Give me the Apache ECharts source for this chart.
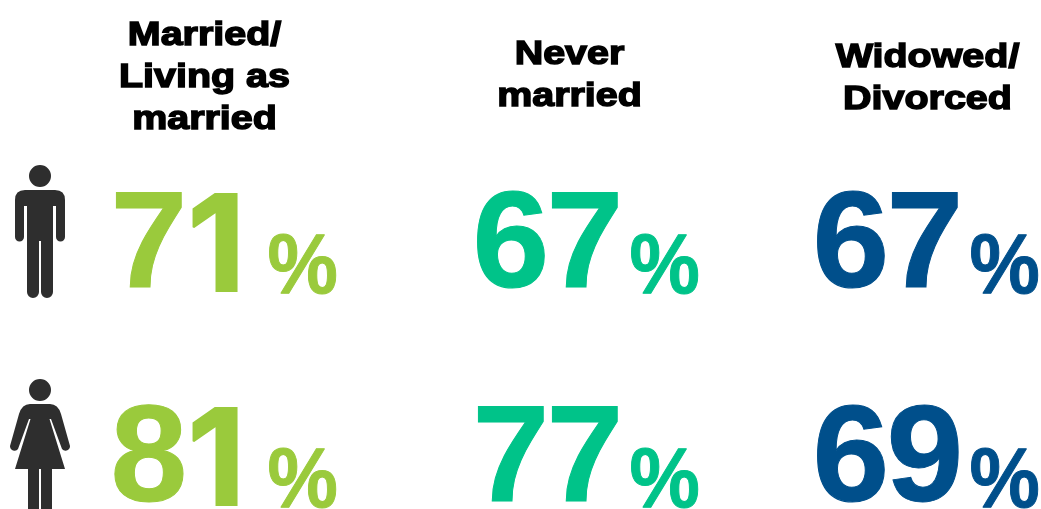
<!DOCTYPE html>
<html>
<head>
<meta charset="utf-8">
<style>html,body{margin:0;padding:0;background:#fff}#main{width:1041px;height:509px}</style>
<script src="https://cdn.jsdelivr.net/npm/echarts@6/dist/echarts.min.js"></script>
</head>
<body>
<div id="main"></div>
<script>
// Share of respondents, by marital status and sex
const statuses = ['Married/\nLiving as\nmarried', 'Never\nmarried', 'Widowed/\nDivorced'];
const sexes = ['Men', 'Women'];
const menValues = [71, 67, 67];
const womenValues = [81, 77, 69];
const statusColors = ['#9aca3c', '#00c389', '#004f8b'];

// Layout tweaks around each category band centre
const valueNudgeX = [0, 11, 0];
const headerNudgeX = [-20, -6, 1];
const headerNudgeY = [52, 50, 53];
const valueLeftFromCentre = -114;
const valueMiddleFromCentre = 9;
const digitAdvance = 74;
const percentMiddleOffset = 20;
const percentGap = 157;
const iconCentreFromBand = -184.5;

const HEAD = 'M-11 -64a11 11 0 1 0 22 0a11 11 0 1 0 -22 0Z';
const iconPaths = {
  Men: HEAD + 'M-15 -50L15 -50Q25 -50 25 -40L25 -3A4.5 4.5 0 0 1 16 -3L16 -34L13 -34L13 52A6 6 0 0 1 1 52L1 1L-1 1L-1 52A6 6 0 0 1 -13 52L-13 -34L-16 -34L-16 -3A4.5 4.5 0 0 1 -25 -3L-25 -40Q-25 -50 -15 -50Z',
  Women: HEAD + 'M-10 -50L10 -50Q18 -50 21 -40L30 -8A4.5 4.5 0 0 1 22 -5L11 -35L9.5 -35L25 15L12 15L12 60L1 60L1 15L-1 15L-1 60L-12 60L-12 15L-25 15L-9.5 -35L-11 -35L-22 -5A4.5 4.5 0 0 1 -30 -8L-21 -40Q-18 -50 -10 -50Z'
};

const rows = ['Header'].concat(sexes);
const valueData = [];
menValues.forEach((v, i) => valueData.push([i, 'Men', v]));
womenValues.forEach((v, i) => valueData.push([i, 'Women', v]));

// One text element per digit, so the flagged "1" can come from a face without a foot serif
function digitElement(ch, x, y, color) {
  const isOne = ch === '1';
  return {
    type: 'text',
    style: {
      text: ch,
      x: isOne ? x + 3 : x,
      y: isOne ? y + 2 : y,
      align: 'left',
      verticalAlign: 'middle',
      font: isOne ? 'bold 134px Inter' : 'bold 138px "Liberation Sans"',
      fill: color,
      stroke: color,
      lineWidth: isOne ? 2 : 1
    }
  };
}

const chart = echarts.init(document.getElementById('main'), null, { renderer: 'canvas' });
chart.setOption({
  animation: false,
  backgroundColor: '#fff',
  grid: { outerBoundsMode: 'none', left: 49, top: -81, width: 1053, height: 642 },
  xAxis: { type: 'category', show: false, data: statuses },
  yAxis: { type: 'category', show: false, inverse: true, data: rows },
  series: [
    {
      name: 'Headers',
      type: 'custom',
      clip: false,
      data: statuses.map((s, i) => [i, 'Header']),
      renderItem(params, api) {
        const i = api.value(0);
        const p = api.coord([i, 'Header']);
        return {
          type: 'group',
          x: p[0] + headerNudgeX[i],
          y: p[1] + headerNudgeY[i],
          scaleX: 1.16,
          children: [{
            type: 'text',
            style: {
              text: statuses[i],
              x: 0, y: 0,
              align: 'center',
              verticalAlign: 'middle',
              font: 'bold 34px "Liberation Sans"',
              lineHeight: 42,
              fill: '#000',
              stroke: '#000',
              lineWidth: 1.5
            }
          }]
        };
      }
    },
    {
      name: 'Values',
      type: 'custom',
      clip: false,
      data: valueData,
      renderItem(params, api) {
        const d = valueData[params.dataIndex];
        const i = d[0];
        const p = api.coord([i, d[1]]);
        const x = p[0] + valueNudgeX[i] + valueLeftFromCentre;
        const y = p[1] + valueMiddleFromCentre;
        const color = statusColors[i];
        const digits = String(d[2]).split('').map((ch, k) =>
          digitElement(ch, x + k * digitAdvance, y, color));
        return {
          type: 'group',
          children: digits.concat([{
            type: 'group',
            x: x + percentGap,
            y: y + percentMiddleOffset,
            scaleX: 0.92,
            children: [{
              type: 'text',
              style: {
                text: '%', x: 0, y: 0,
                align: 'left', verticalAlign: 'middle',
                font: 'bold 86px "Liberation Sans"',
                fill: color,
                stroke: color,
                lineWidth: 1
              }
            }]
          }])
        };
      }
    },
    {
      name: 'Icons',
      type: 'custom',
      clip: false,
      data: sexes.map(s => [0, s]),
      renderItem(params, api) {
        const sex = sexes[params.dataIndex];
        const p = api.coord([0, sex]);
        return {
          type: 'path',
          x: p[0] + iconCentreFromBand,
          y: p[1],
          shape: { pathData: iconPaths[sex] },
          style: { fill: '#2e2e2e' }
        };
      }
    }
  ]
});
</script>
</body>
</html>
